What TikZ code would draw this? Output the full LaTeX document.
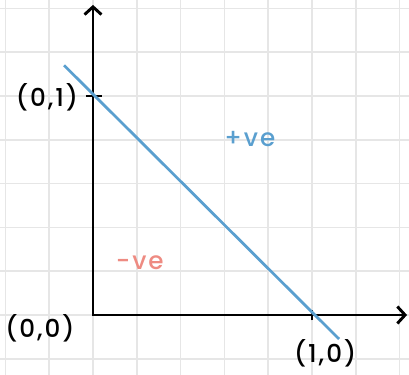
\documentclass[tikz,border=0pt]{standalone}
\usepackage{fontspec}
\setmainfont{Poppins}[BoldFont={Poppins Medium}, LetterSpace=8]
\usetikzlibrary{arrows.meta}
\definecolor{gridgray}{HTML}{E6E6E6}
\definecolor{lineblue}{HTML}{5A9FCF}
\definecolor{salmon}{HTML}{EE8B82}

\begin{document}
\begin{tikzpicture}[>={Straight Barb[length=5pt,width=11pt]},
    axis/.style={line width=1.9pt},
    tick/.style={line width=1.5pt},
    lbl/.style={font=\fontsize{16}{18}\selectfont\bfseries, inner sep=1pt}]
    \clip (-2.123,-1.347) rectangle (7.215,7.192);
    \draw[gridgray, line width=1pt] (-3,-2) grid (8,8);
    % axes
    \coordinate (O) at (0,0);
    \coordinate (ytop) at (0,7.08);
    \coordinate (xend) at (7.17,0);
    \draw[axis, <->] (ytop) -- (O) -- (xend);
    \coordinate (t1) at (0,5);
    \coordinate (t2) at (5,0);
    \draw[tick] (t1) ++(-0.16,0) -- ++(0.36,0);
    \draw[tick] (t2) ++(0,-0.12) -- ++(0,0.24);
    % the line x+y=1
    \coordinate (a) at (-0.66,5.70);
    \coordinate (b) at (5.62,-0.55);
    \draw[lineblue, line width=1.8pt] (a) -- (b);
    \node[lbl] (l01) at (-1.05,4.98) {(0,1)};
    \node[lbl] (l00) at (-1.21,-0.30) {(0,0)};
    \node[lbl] (l10) at (5.30,-0.87) {(1,0)};
    \node[lbl, text=lineblue] (pos) at (3.58,4.02) {+ve};
    \node[lbl, text=salmon] (neg) at (1.07,1.19) {-ve};
  \end{tikzpicture}
\end{document}
